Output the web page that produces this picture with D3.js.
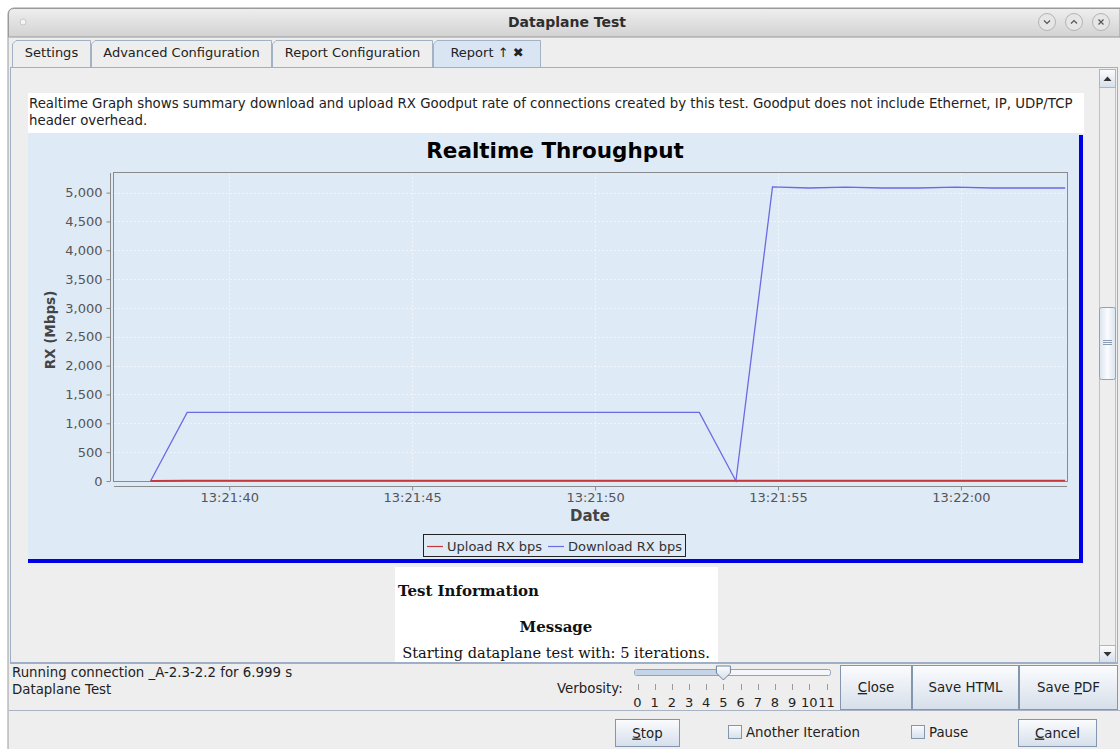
<!DOCTYPE html>
<html>
<head>
<meta charset="utf-8">
<script src="https://cdn.jsdelivr.net/npm/d3@7"></script>
<style>
    body { margin: 0; background: #ffffff; overflow: hidden; }
    svg { display: block; }
    text { font-family: "DejaVu Sans", sans-serif; }
    .ui { font-size: 13.33px; fill: #222; }
    .tab { font-size: 13px; fill: #222; }
    .serif { font-family: "DejaVu Serif", serif; fill: #111; }
    .axis text { font-size: 13px; fill: #555; }
    .axis path, .axis line { stroke: #8a8a8a; }
</style>
</head>
<body>
<svg id="page" width="1120" height="749"></svg>
<script>
// sample times (one point per second) and values in Mbps
const sampleTimes = [
    "13:21:37.850", "13:21:38.850", "13:21:39.850", "13:21:40.850", "13:21:41.850",
    "13:21:42.850", "13:21:43.850", "13:21:44.850", "13:21:45.850", "13:21:46.850",
    "13:21:47.850", "13:21:48.850", "13:21:49.850", "13:21:50.850", "13:21:51.850",
    "13:21:52.850", "13:21:53.850", "13:21:54.850", "13:21:55.850", "13:21:56.850",
    "13:21:57.850", "13:21:58.850", "13:21:59.850", "13:22:00.850", "13:22:01.850",
    "13:22:02.850"
];
const downloadMbps = [
    0, 1190, 1190, 1190, 1190, 1190, 1190, 1190, 1190, 1190,
    1190, 1190, 1190, 1190, 1190, 1190, 0, 5100, 5080, 5095,
    5080, 5080, 5095, 5080, 5080, 5080
];
const uploadMbps = [
    0, 8, 8, 8, 8, 8, 8, 8, 8, 8,
    8, 8, 8, 8, 8, 8, 8, 8, 8, 8,
    8, 8, 8, 8, 8, 8
];
const xDomain = ["13:21:36.850", "13:22:02.900"];
const xTicks = ["13:21:40.000", "13:21:45.000", "13:21:50.000", "13:21:55.000", "13:22:00.000"];
const yTicks = [0, 500, 1000, 1500, 2000, 2500, 3000, 3500, 4000, 4500, 5000];
const yMax = 5340;

const seriesNames = ["Upload RX bps", "Download RX bps"];
const seriesColors = ["#c83838", "#6a6ae4"];

const tabs = ["Settings", "Advanced Configuration", "Report Configuration", "Report \u2191 \u2716"];

const parseTime = d3.timeParse("%H:%M:%S.%L");

const svg = d3.select("#page");

// ---------- window chrome ----------
const grad = svg.append("defs");
const tg = grad.append("linearGradient").attr("id", "titleGrad").attr("x1", 0).attr("y1", 0).attr("x2", 0).attr("y2", 1);
tg.append("stop").attr("offset", "0%").attr("stop-color", "#eeeeee");
tg.append("stop").attr("offset", "100%").attr("stop-color", "#d2d2d2");
const bg = grad.append("linearGradient").attr("id", "btnGrad").attr("x1", 0).attr("y1", 0).attr("x2", 0).attr("y2", 1);
bg.append("stop").attr("offset", "0%").attr("stop-color", "#fbfcfe");
bg.append("stop").attr("offset", "100%").attr("stop-color", "#d6dfea");
const thg = grad.append("linearGradient").attr("id", "thumbGrad").attr("x1", 0).attr("y1", 0).attr("x2", 1).attr("y2", 0);
thg.append("stop").attr("offset", "0%").attr("stop-color", "#d9e3ef");
thg.append("stop").attr("offset", "50%").attr("stop-color", "#fbfcfe");
thg.append("stop").attr("offset", "100%").attr("stop-color", "#d9e3ef");

svg.append("rect").attr("x", 8).attr("y", 8).attr("width", 1120).attr("height", 760)
    .attr("rx", 6).attr("fill", "#eeeeee").attr("stroke", "#9a9a9a");
svg.append("path").attr("d", "M8.5,37 V14 Q8.5,8.5 14,8.5 H1120 V37 Z")
    .attr("fill", "url(#titleGrad)").attr("stroke", "#9a9a9a");
svg.append("line").attr("x1", 9).attr("x2", 1120).attr("y1", 37.5).attr("y2", 37.5).attr("stroke", "#c4c4c4");
svg.append("circle").attr("cx", 23).attr("cy", 22).attr("r", 3).attr("fill", "#f4f4f4").attr("stroke", "#c8c8c8");
svg.append("text").attr("x", 567).attr("y", 27).attr("text-anchor", "middle")
    .style("font-size", "14px").style("font-weight", "bold").attr("fill", "#2e2e2e").text("Dataplane Test");
[1047, 1074, 1101].forEach((cx, i) => {
    svg.append("circle").attr("cx", cx).attr("cy", 22).attr("r", 8.5).attr("fill", "#e6e6e6").attr("stroke", "#b4b4b4");
    const p = i === 0 ? `M${cx - 3},20.5 L${cx},23.5 L${cx + 3},20.5`
        : i === 1 ? `M${cx - 3},23.5 L${cx},20.5 L${cx + 3},23.5`
        : `M${cx - 2.5},19.5 L${cx + 2.5},24.5 M${cx + 2.5},19.5 L${cx - 2.5},24.5`;
    svg.append("path").attr("d", p).attr("fill", "none").attr("stroke", "#555").attr("stroke-width", 1.2);
});

// tabs
const tabX = [12, 91, 272, 433, 541];
tabs.forEach((t, i) => {
    const x0 = tabX[i], x1 = tabX[i + 1];
    const sel = i === 3;
    svg.append("path")
        .attr("d", `M${x0 + 0.5},67 V44 L${x0 + 4},40.5 H${x1 - 0.5} V67`)
        .attr("fill", sel ? "#dae5f3" : "#eeeeee").attr("stroke", "#a3b1c4");
    svg.append("text").attr("class", "tab").attr("x", (x0 + x1) / 2).attr("y", 57)
        .attr("text-anchor", "middle").text(t);
});

// content panel + scrollbar
svg.append("rect").attr("x", 10.5).attr("y", 67.5).attr("width", 1107).attr("height", 596)
    .attr("fill", "#eeeeee").attr("stroke", "#9fb0c6");
svg.append("rect").attr("x", 1099.5).attr("y", 69.5).attr("width", 16).attr("height", 593)
    .attr("fill", "#eeeeee").attr("stroke", "#b9c3cf");
svg.append("rect").attr("x", 1099.5).attr("y", 69.5).attr("width", 16).attr("height", 18)
    .attr("fill", "url(#btnGrad)").attr("stroke", "#a8b6c8");
svg.append("path").attr("d", "M1103.5,81 L1107.5,76.5 L1111.5,81 Z").attr("fill", "#333");
svg.append("rect").attr("x", 1099.5).attr("y", 645.5).attr("width", 16).attr("height", 17)
    .attr("fill", "url(#btnGrad)").attr("stroke", "#a8b6c8");
svg.append("path").attr("d", "M1103.5,652 L1107.5,656.5 L1111.5,652 Z").attr("fill", "#333");
svg.append("rect").attr("x", 1099.5).attr("y", 307.5).attr("width", 16).attr("height", 72)
    .attr("rx", 2).attr("fill", "url(#thumbGrad)").attr("stroke", "#8fa3bc");
[340, 342, 344].forEach(y => svg.append("line").attr("x1", 1103).attr("x2", 1112)
    .attr("y1", y + 0.5).attr("y2", y + 0.5).attr("stroke", "#8a9ab0"));

// description box
svg.append("rect").attr("x", 28).attr("y", 93).attr("width", 1056).attr("height", 40).attr("fill", "#ffffff");
svg.append("text").attr("class", "ui").attr("x", 29).attr("y", 108)
    .text("Realtime Graph shows summary download and upload RX Goodput rate of connections created by this test. Goodput does not include Ethernet, IP, UDP/TCP");
svg.append("text").attr("class", "ui").attr("x", 29).attr("y", 125).text("header overhead.");

// ---------- chart ----------
svg.append("rect").attr("x", 28).attr("y", 133).attr("width", 1053).attr("height", 428).attr("fill", "#dfeaf7");
svg.append("path").attr("d", "M1081,135 V561 H28").attr("fill", "none").attr("stroke", "#0000e6").attr("stroke-width", 4);

const plot = { left: 114, right: 1067, top: 173, bottom: 481 };

const x = d3.scaleTime()
    .domain(xDomain.map(parseTime))
    .range([plot.left, plot.right]);
const y = d3.scaleLinear()
    .domain([0, yMax])
    .range([plot.bottom, plot.top]);

svg.append("text").attr("x", 555).attr("y", 158).attr("text-anchor", "middle")
    .style("font-size", "21.5px").style("font-weight", "bold").attr("fill", "#000").text("Realtime Throughput");

// gridlines
const grid = svg.append("g");
grid.selectAll(".gy").data(yTicks).enter().append("line")
    .attr("x1", plot.left).attr("x2", plot.right)
    .attr("y1", d => Math.round(y(d)) + 0.5).attr("y2", d => Math.round(y(d)) + 0.5)
    .attr("stroke", "#ffffff").attr("stroke-dasharray", "2,2").attr("opacity", 0.55);
grid.selectAll(".gx").data(xTicks.map(parseTime)).enter().append("line")
    .attr("y1", plot.top).attr("y2", plot.bottom)
    .attr("x1", d => Math.round(x(d)) + 0.5).attr("x2", d => Math.round(x(d)) + 0.5)
    .attr("stroke", "#ffffff").attr("stroke-dasharray", "2,2").attr("opacity", 0.55);

svg.append("rect").attr("x", plot.left - 0.5).attr("y", plot.top - 0.5)
    .attr("width", plot.right - plot.left + 1).attr("height", plot.bottom - plot.top + 1)
    .attr("fill", "none").attr("stroke", "#8a8a8a");

// axes
svg.append("g").attr("class", "axis")
    .attr("transform", `translate(110.5,0)`)
    .call(d3.axisLeft(y).tickValues(yTicks).tickFormat(d3.format(",")).tickSize(4).tickPadding(4))
    .call(g => g.select(".domain").attr("d", `M0,${plot.top}V${plot.bottom}`));

svg.append("g").attr("class", "axis")
    .attr("transform", `translate(0,486.5)`)
    .call(d3.axisBottom(x).tickValues(xTicks.map(parseTime)).tickFormat(d3.timeFormat("%H:%M:%S")).tickSize(4).tickPadding(2))
    .call(g => g.select(".domain").attr("d", `M${plot.left},0H${plot.right}`));

svg.append("text").attr("x", 590).attr("y", 521).attr("text-anchor", "middle")
    .style("font-size", "15px").style("font-weight", "bold").attr("fill", "#444").text("Date");
svg.append("text").attr("transform", "translate(55,330) rotate(-90)").attr("text-anchor", "middle")
    .style("font-size", "13.5px").style("font-weight", "bold").attr("fill", "#444").text("RX (Mbps)");

// series
const series = [uploadMbps, downloadMbps].map((vals, i) => ({
    name: seriesNames[i],
    color: seriesColors[i],
    values: vals.map((v, j) => ({ t: parseTime(sampleTimes[j]), v: v }))
}));
const line = d3.line().x(d => x(d.t)).y(d => y(d.v));
svg.append("g").selectAll("path").data(series.slice().reverse()).enter().append("path")
    .attr("d", d => line(d.values))
    .attr("fill", "none")
    .attr("stroke", d => d.color)
    .attr("stroke-width", (d, i) => i === 1 ? 1.8 : 1.3);

// legend
const legend = svg.append("g");
legend.append("rect").attr("x", 423.5).attr("y", 534.5).attr("width", 262).attr("height", 22)
    .attr("fill", "#dfeaf7").attr("stroke", "#222");
const legX = [427, 548];
series.forEach((s, i) => {
    legend.append("line").attr("x1", legX[i]).attr("x2", legX[i] + 16).attr("y1", 546.5).attr("y2", 546.5)
        .attr("stroke", s.color).attr("stroke-width", 1.2);
    legend.append("text").attr("x", legX[i] + 20).attr("y", 551)
        .style("font-size", "13px").attr("fill", "#333").text(s.name);
});

// ---------- test information box ----------
svg.append("rect").attr("x", 395).attr("y", 567).attr("width", 323).attr("height", 95).attr("fill", "#ffffff");
svg.append("text").attr("class", "serif").attr("x", 398).attr("y", 596)
    .style("font-size", "15px").style("font-weight", "bold").text("Test Information");
svg.append("text").attr("class", "serif").attr("x", 556).attr("y", 632).attr("text-anchor", "middle")
    .style("font-size", "15px").style("font-weight", "bold").text("Message");
svg.append("text").attr("class", "serif").attr("x", 556).attr("y", 658).attr("text-anchor", "middle")
    .style("font-size", "14.6px").text("Starting dataplane test with: 5 iterations.");
svg.append("rect").attr("x", 11).attr("y", 662).attr("width", 1106).attr("height", 1).attr("fill", "#9fb0c6");

// ---------- status area ----------
svg.append("text").attr("class", "ui").attr("x", 12).attr("y", 677).text("Running connection _A-2.3-2.2 for 6.999 s");
svg.append("text").attr("class", "ui").attr("x", 12).attr("y", 694).text("Dataplane Test");
svg.append("text").attr("class", "ui").attr("x", 557).attr("y", 693).text("Verbosity:");

// slider
const sx = d3.scaleLinear().domain([0, 11]).range([637.5, 826.5]);
svg.append("rect").attr("x", 634.5).attr("y", 669.5).attr("width", 196).attr("height", 6).attr("rx", 2)
    .attr("fill", "#f4f6f9").attr("stroke", "#8fa3bc");
svg.append("rect").attr("x", 635).attr("y", 670).attr("width", sx(5) - 635).attr("height", 5)
    .attr("fill", "#c5d4e6");
svg.append("path")
    .attr("d", `M${sx(5) - 7},666 H${sx(5) + 7} V673 L${sx(5)},680 L${sx(5) - 7},673 Z`)
    .attr("fill", "url(#btnGrad)").attr("stroke", "#6f829c");
svg.append("g").selectAll("line").data(d3.range(12)).enter().append("line")
    .attr("x1", d => Math.round(sx(d)) + 0.5).attr("x2", d => Math.round(sx(d)) + 0.5)
    .attr("y1", 684).attr("y2", 690).attr("stroke", "#9a9a9a");
svg.append("g").selectAll("text").data(d3.range(12)).enter().append("text")
    .attr("x", d => sx(d)).attr("y", 707)
    .style("font-size", "13px").attr("fill", "#222")
    .attr("text-anchor", "middle")
    .text(d => d);

// buttons
function button(x0, y0, w, h, label, underline) {
    svg.append("rect").attr("x", x0 + 0.5).attr("y", y0 + 0.5).attr("width", w).attr("height", h)
        .attr("fill", "url(#btnGrad)").attr("stroke", "#8496ad");
    const t = svg.append("text").attr("class", "ui").attr("x", x0 + w / 2 + 0.5).attr("y", y0 + h / 2 + 5)
        .attr("text-anchor", "middle");
    if (underline != null) {
        t.append("tspan").text(label.slice(0, underline));
        t.append("tspan").style("text-decoration", "underline").text(label[underline]);
        t.append("tspan").text(label.slice(underline + 1));
    } else {
        t.text(label);
    }
}
button(840, 665, 71, 44, "Close", 0);
button(912, 665, 106, 44, "Save HTML", null);
button(1019, 665, 98, 44, "Save PDF", 5);
svg.append("line").attr("x1", 9).attr("x2", 1120).attr("y1", 710.5).attr("y2", 710.5).attr("stroke", "#a8b4c4");

button(615, 719, 64, 27, "Stop", 0);
button(1018, 719, 78, 27, "Cancel", 0);
[[728, "Another Iteration"], [911, "Pause"]].forEach(([cx, label]) => {
    svg.append("rect").attr("x", cx + 0.5).attr("y", 725.5).attr("width", 13).attr("height", 13)
        .attr("fill", "url(#btnGrad)").attr("stroke", "#8496ad");
    svg.append("text").attr("class", "ui").attr("x", cx + 18).attr("y", 737).text(label);
});
</script>
</body>
</html>
